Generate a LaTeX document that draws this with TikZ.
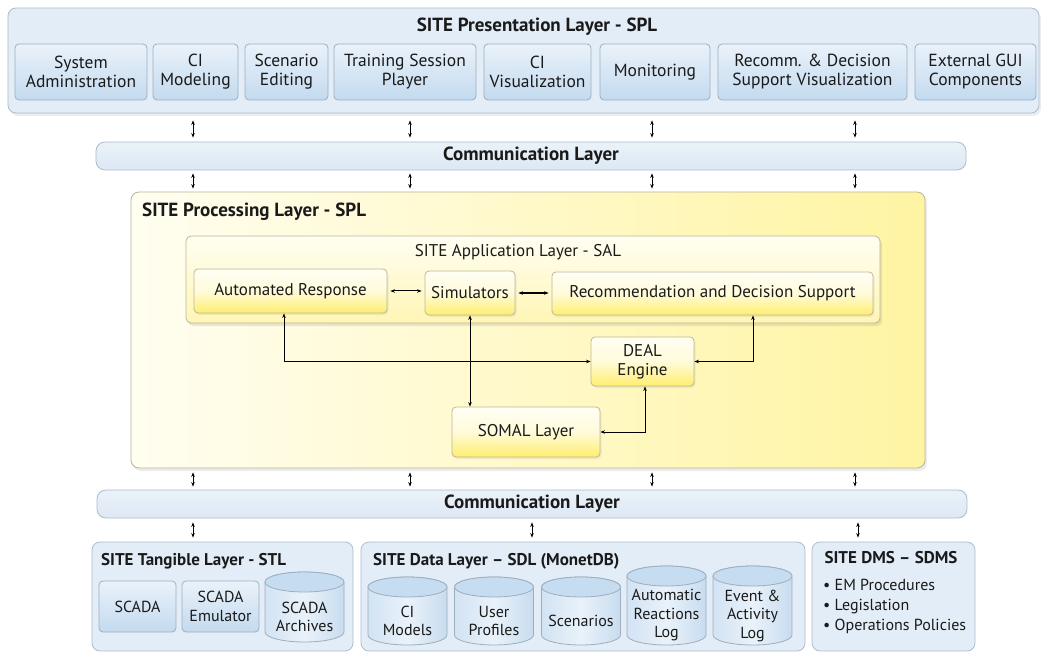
\documentclass[tikz,border=0pt]{standalone}
\usepackage{fontspec}
\setmainfont{PT Sans}
\usetikzlibrary{arrows.meta,shadows,calc}
\definecolor{txt}{HTML}{1A1A1A}
\definecolor{layfill}{HTML}{E3EDF7}
\definecolor{laybord}{HTML}{AEBCCB}
\definecolor{bluetop}{HTML}{EAF2FA}
\definecolor{bluebot}{HTML}{C3DAEF}
\definecolor{boxbord}{HTML}{9DAEBF}
\definecolor{commtop}{HTML}{EBF2F9}
\definecolor{commbot}{HTML}{DCE8F4}
\definecolor{procL}{HTML}{FFFEF0}
\definecolor{procR}{HTML}{FFF4A2}
\definecolor{procbord}{HTML}{B9B49A}
\definecolor{saltop}{HTML}{FFFEF2}
\definecolor{salbot}{HTML}{FFF6B4}
\definecolor{ytop}{HTML}{FFFEF4}
\definecolor{ymid}{HTML}{FFFBDA}
\definecolor{ybot}{HTML}{FFEE6E}
\definecolor{ybord}{HTML}{BDB79A}
\definecolor{cylL}{HTML}{D2E3F3}
\definecolor{cylM}{HTML}{E9F2FA}
\definecolor{cylR}{HTML}{C8DCEF}
\definecolor{cyltop}{HTML}{C6DCF0}
\definecolor{cylbord}{HTML}{9DAEBF}
\newcommand{\dbcyl}[5]{%
  \path[draw=cylbord, line width=0.8pt, left color=cylL, right color=cylR, middle color=cylM]
    (#2-39.5,-#3-10) -- (#2-39.5,-#4+10)
    arc[start angle=180,end angle=360,x radius=39.5,y radius=10]
    -- (#2+39.5,-#3-10)
    arc[start angle=0,end angle=180,x radius=39.5,y radius=10] -- cycle;
  \draw[draw=cylbord, line width=0.8pt, fill=cyltop] (#2,-#3-10) ellipse [x radius=39.5, y radius=10];
  \node[align=center, text=txt, font=\fontsize{16}{18.5}\selectfont] (#1) at (#2,{-(#3+20+#4)/2}) {#5};
}
\begin{document}
\begin{tikzpicture}[x=1pt,y=1pt,
  font=\fontsize{17.5}{19}\selectfont, text=txt,
  layer/.style={draw=laybord, fill=layfill, rounded corners=8pt, line width=0.8pt, inner sep=0pt},
  bluebox/.style={draw=boxbord, top color=bluetop, bottom color=bluebot, rounded corners=4pt,
    align=center, inner sep=0pt, line width=0.8pt},
  comm/.style={draw=laybord, top color=commtop, bottom color=commbot, rounded corners=9pt,
    inner sep=0pt, line width=0.8pt, font=\fontsize{19}{20}\selectfont\bfseries},
  ybox/.style={draw=ybord, top color=ytop, bottom color=ybot, middle color=ymid, rounded corners=4pt,
    align=center, inner sep=0pt, line width=0.8pt, font=\fontsize{17}{19}\selectfont,
    drop shadow={shadow xshift=1.5pt, shadow yshift=-2pt, opacity=0.12}},
  ttl/.style={font=\fontsize{19}{20}\selectfont\bfseries, inner sep=0pt},
  bttl/.style={font=\fontsize{17}{19}\selectfont\bfseries, inner sep=0pt},
  bot/.style={font=\fontsize{16}{18.5}\selectfont},
  dbl/.style={{Stealth[length=4.5pt,width=3.5pt]}-{Stealth[length=4.5pt,width=3.5pt]}, line width=1pt},
  shd/.style={drop shadow={shadow xshift=2pt, shadow yshift=-3pt, opacity=0.15}}
]
\useasboundingbox (0,0) rectangle (1041,-652);

% ---------- Presentation layer ----------
\node[layer, shd, minimum width=1031, minimum height=105] (pres) at (523.5,-60.5) {};
\node[ttl] (prest) at (537,-27) {SITE Presentation Layer - SPL};
\node[bluebox, minimum width=132, minimum height=56] (p1) at (81,-72) {System\\Administration};
\node[bluebox, minimum width=85, minimum height=56] (p2) at (195.5,-72) {CI\\Modeling};
\node[bluebox, minimum width=83, minimum height=56] (p3) at (286.5,-72) {Scenario\\Editing};
\node[bluebox, minimum width=142, minimum height=56] (p4) at (405,-72) {Training Session\\Player};
\node[bluebox, minimum width=107, minimum height=56] (p5) at (537.5,-72) {CI\\Visualization};
\node[bluebox, minimum width=110, minimum height=56] (p6) at (655,-72) {Monitoring};
\node[bluebox, minimum width=189, minimum height=56] (p7) at (812.5,-72) {Recomm. \& Decision\\Support Visualization};
\node[bluebox, minimum width=121, minimum height=56] (p8) at (975.5,-72) {External GUI\\Components};

% ---------- Communication layers ----------
\node[comm, minimum width=870, minimum height=28] (comm1) at (531,-156) {Communication Layer};
\node[comm, minimum width=870, minimum height=28] (comm2) at (532,-504) {Communication Layer};

% ---------- Processing layer ----------
\node[draw=procbord, left color=procL, right color=procR, rounded corners=8pt, line width=0.8pt,
      minimum width=794, minimum height=276, inner sep=0pt, shd] (proc) at (528,-330) {};
\node[ttl, anchor=west] (proct) at (142,-212) {SITE Processing Layer - SPL};
\node[draw=ybord, top color=saltop, bottom color=salbot, rounded corners=5pt, line width=0.8pt,
      minimum width=694, minimum height=87, inner sep=0pt,
      drop shadow={shadow xshift=2pt, shadow yshift=-3pt, opacity=0.18}] (sal) at (533,-279.5) {};
\node[inner sep=0pt, font=\fontsize{17}{19}\selectfont] (salt) at (518,-252) {SITE Application Layer - SAL};
\node[ybox, minimum width=193, minimum height=44] (ar) at (290.5,-291) {Automated Response};
\node[ybox, minimum width=90, minimum height=44] (sim) at (470,-293) {Simulators};
\node[ybox, minimum width=321, minimum height=43] (rec) at (712.5,-293.5) {Recommendation and Decision Support};
\node[ybox, minimum width=103, minimum height=49] (deal) at (642.5,-361.5) {DEAL\\Engine};
\node[ybox, minimum width=148, minimum height=50] (somal) at (526,-432) {SOMAL Layer};

\draw[dbl] ([xshift=3]ar.east) -- ([xshift=-3]ar.east -| sim.west);
\draw[dbl] ([xshift=3]sim.east) -- ([xshift=-3]sim.east -| rec.west);
\draw[dbl] ([xshift=-6.5]ar.south) |- (deal.west);
\draw[dbl] ([xshift=40.5]rec.south) |- (deal.east);
\draw[dbl] (sim.south) -- (sim.south |- somal.north);
\draw[dbl] (somal.east) -| ([xshift=2.5]deal.south);

% ---------- vertical arrows between layers ----------
\foreach \xx/\nm in {193/a, 410/b, 652/c, 855/d}{
  \coordinate (x\nm) at (\xx,0);
  \draw[dbl] ([yshift=-7]pres.south -| x\nm) -- ([yshift=4]comm1.north -| x\nm);
  \draw[dbl] ([yshift=-3]comm1.south -| x\nm) -- ([yshift=3]proc.north -| x\nm);
  \draw[dbl] ([yshift=-4]proc.south -| x\nm) -- ([yshift=3]comm2.north -| x\nm);
}

% ---------- Bottom layers ----------
\node[layer, minimum width=261, minimum height=109] (stl) at (222.5,-596.5) {};
\node[layer, minimum width=444, minimum height=109] (sdl) at (583,-596.5) {};
\node[layer, minimum width=163, minimum height=109] (sdms) at (893.5,-596.5) {};

\coordinate (ba) at (193,0);
\coordinate (bb) at (532,0);
\coordinate (bc) at (858,0);
\draw[dbl] ([yshift=-4]comm2.south -| ba) -- ([yshift=4]stl.north -| ba);
\draw[dbl] ([yshift=-4]comm2.south -| bb) -- ([yshift=4]sdl.north -| bb);
\draw[dbl] ([yshift=-4]comm2.south -| bc) -- ([yshift=4]sdms.north -| bc);

\node[bttl, anchor=west] (stlt) at (101,-561) {SITE Tangible Layer - STL};
\node[bluebox, bot, minimum width=77, minimum height=51] (scada) at (137.5,-606.5) {SCADA};
\node[bluebox, bot, minimum width=77, minimum height=51] (emu) at (220.5,-606.5) {SCADA\\Emulator};
\dbcyl{arch}{304.5}{572}{642}{SCADA\\Archives}

\node[bttl, anchor=west] (sdlt) at (373,-561) {SITE Data Layer – SDL (MonetDB)};
\dbcyl{cim}{407.5}{577}{645}{CI\\Models}
\dbcyl{up}{494}{577}{645}{User\\Profiles}
\dbcyl{scen}{581}{577}{645}{Scenarios}
\dbcyl{arl}{666.5}{566}{645}{Automatic\\Reactions\\Log}
\dbcyl{eal}{752.5}{566}{645}{Event \&\\Activity\\Log}

\node[bttl] (sdmst) at (891,-558) {SITE DMS – SDMS};
\node[anchor=north west, align=left, inner sep=0pt, font=\fontsize{16}{20}\selectfont] (sdmsl) at (823,-579)
  {• EM Procedures\\• Legislation\\• Operations Policies};
\end{tikzpicture}
\end{document}
